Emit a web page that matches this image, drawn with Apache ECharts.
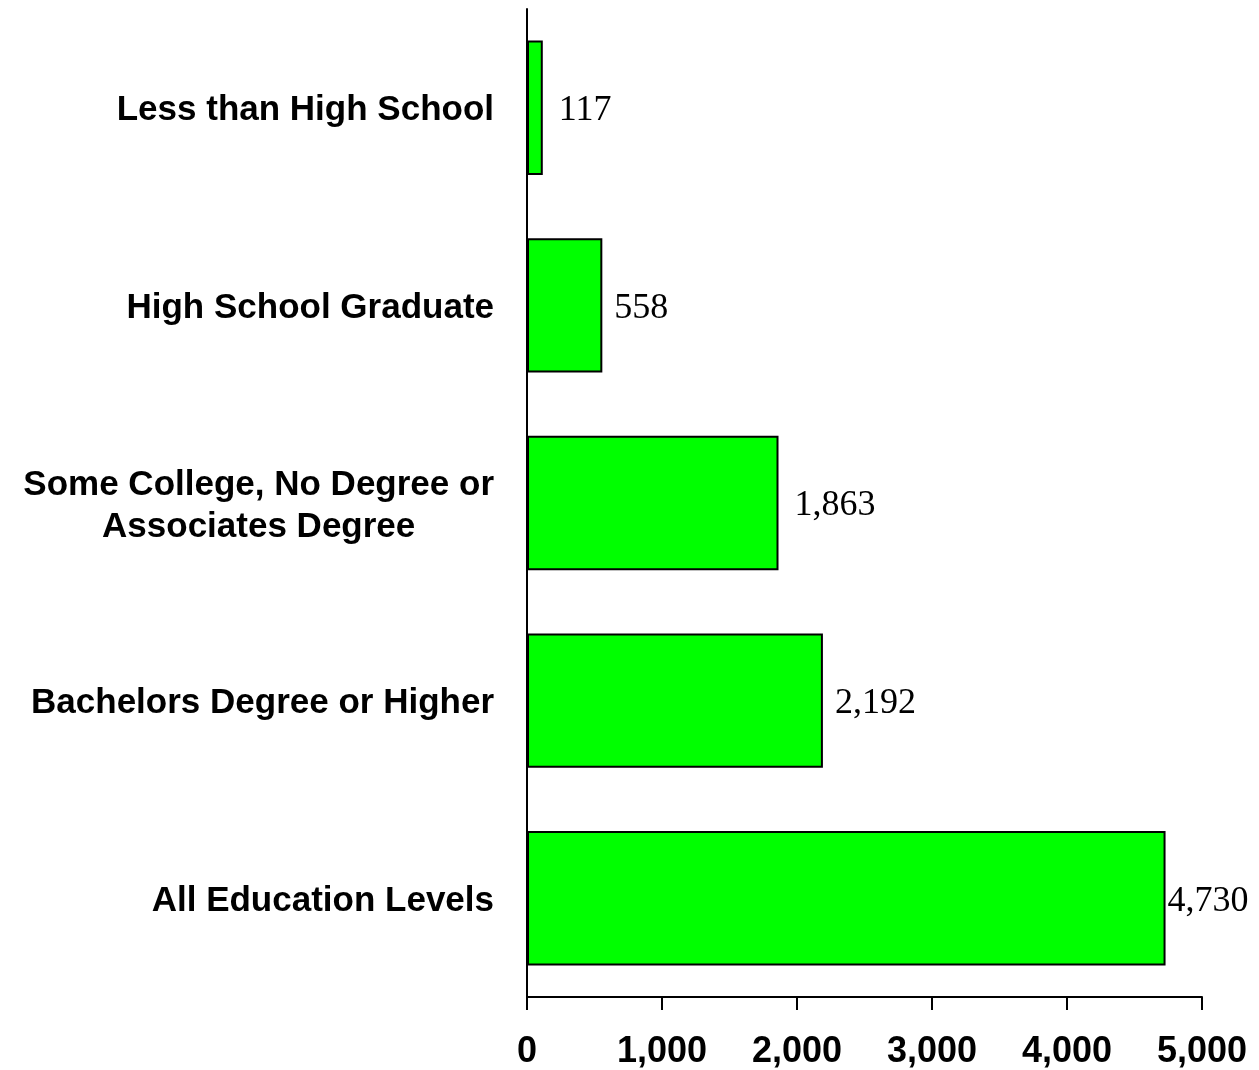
<!DOCTYPE html>
<html>
<head>
<meta charset="utf-8">
<script src="https://cdn.jsdelivr.net/npm/echarts@6/dist/echarts.min.js"></script>
<style>
html,body{margin:0;padding:0;background:#fff;}
#chart{width:1259px;height:1070px;}
</style>
</head>
<body>
<div id="chart"></div>
<script>
const categories = [
  "All Education Levels",
  "Bachelors Degree or Higher",
  "Some College, No Degree or\nAssociates Degree",
  "High School Graduate",
  "Less than High School"
];
const values = [4730, 2192, 1863, 558, 117];
const labelDistances = [2, 12, 16, 12, 16];
const xTicks = [0, 1000, 2000, 3000, 4000, 5000];

const chart = echarts.init(document.getElementById('chart'), null, {renderer: 'canvas'});
chart.setOption({
  animation: false,
  backgroundColor: '#ffffff',
  grid: {left: 527, right: 57, top: 9, bottom: 72, containLabel: false},
  xAxis: {
    type: 'value',
    min: xTicks[0],
    max: xTicks[xTicks.length - 1],
    interval: 1000,
    axisLine: {show: true, lineStyle: {color: '#000', width: 2}},
    axisTick: {show: true, length: 13, lineStyle: {color: '#000', width: 2}},
    splitLine: {show: false},
    axisLabel: {
      margin: 37,
      color: '#000',
      fontFamily: 'Liberation Sans, Arial, sans-serif',
      fontWeight: 'bold',
      fontSize: 36,
      formatter: v => v.toLocaleString('en-US')
    }
  },
  yAxis: {
    type: 'category',
    data: categories,
    axisLine: {show: true, lineStyle: {color: '#000', width: 2}},
    axisTick: {show: false},
    axisLabel: {
      margin: 33,
      align: 'right',
      padding: [6, 0, 0, 0],
      color: '#000',
      fontFamily: 'Liberation Sans, Arial, sans-serif',
      fontWeight: 'bold',
      fontSize: 35,
      lineHeight: 42,
      formatter: function (v) {
        return v.split('\n').map(s => '{c|' + s + '}').join('\n');
      },
      rich: {
        c: {
          align: 'center',
          color: '#000',
          fontFamily: 'Liberation Sans, Arial, sans-serif',
          fontWeight: 'bold',
          fontSize: 35,
          lineHeight: 42
        }
      }
    }
  },
  series: [{
    type: 'bar',
    data: values.map((v, i) => ({
      value: v,
      label: {distance: labelDistances[i]}
    })),
    barCategoryGap: '32%',
    itemStyle: {color: '#00ff00', borderColor: '#000', borderWidth: 2},
    label: {
      show: true,
      position: 'right',
      offset: [0, 3],
      color: '#000',
      fontFamily: 'Liberation Serif, Times New Roman, serif',
      fontSize: 36,
      formatter: p => p.value.toLocaleString('en-US')
    }
  }]
});
</script>
</body>
</html>
